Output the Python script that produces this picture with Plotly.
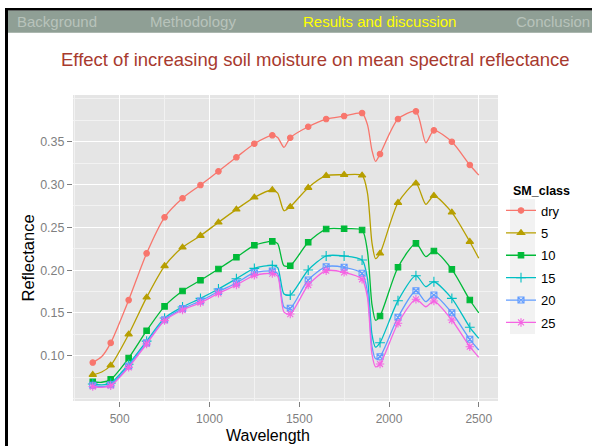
import plotly.graph_objects as go

# ---------------- data ----------------
WAVELENGTH = [350, 400, 450, 550, 650, 750, 850, 950, 1050, 1150, 1250, 1350, 1380, 1415, 1450,
              1550, 1650, 1750, 1850, 1880, 1905, 1925, 1950, 2050, 2150, 2205, 2250, 2350, 2450, 2500]
MARKER_WL = [350, 450, 550, 650, 750, 850, 950, 1050, 1150, 1250, 1350, 1450,
             1550, 1650, 1750, 1850, 1950, 2050, 2150, 2250, 2350, 2450]

SM_CLASSES = ["dry", "5", "10", "15", "20", "25"]

dry = [0.092, 0.099, 0.115, 0.165, 0.2196, 0.2617, 0.284, 0.2994, 0.3154, 0.3318, 0.3477, 0.3575,
       0.355, 0.3435, 0.3547, 0.3675, 0.3765, 0.380, 0.3835, 0.370, 0.340, 0.327, 0.3356, 0.3765,
       0.3855, 0.3488, 0.3633, 0.350, 0.3228, 0.311]
sm5 = [0.0778, 0.081, 0.0888, 0.125, 0.1682, 0.2048, 0.2266, 0.2402, 0.2558, 0.271, 0.285, 0.2936,
       0.290, 0.2694, 0.274, 0.2963, 0.3103, 0.3114, 0.3107, 0.290, 0.232, 0.2135, 0.2196, 0.2787,
       0.3014, 0.2769, 0.2869, 0.2675, 0.2332, 0.2138]
sm10 = [0.0696, 0.069, 0.0724, 0.0973, 0.1292, 0.1577, 0.1756, 0.1881, 0.2013, 0.215, 0.229, 0.2336,
        0.231, 0.205, 0.2051, 0.2325, 0.248, 0.2484, 0.2468, 0.222, 0.160, 0.1415, 0.1464, 0.2033,
        0.2313, 0.2157, 0.2223, 0.2009, 0.1651, 0.150]
sm15 = [0.067, 0.066, 0.068, 0.090, 0.117, 0.144, 0.157, 0.167, 0.178, 0.190, 0.202, 0.2056,
        0.203, 0.172, 0.1709, 0.2001, 0.2165, 0.2165, 0.2118, 0.190, 0.125, 0.110, 0.1152, 0.1643,
        0.1935, 0.1806, 0.1864, 0.167, 0.1332, 0.1203]
sm20 = [0.0655, 0.064, 0.066, 0.088, 0.115, 0.142, 0.155, 0.164, 0.175, 0.185, 0.197, 0.199,
        0.196, 0.157, 0.1554, 0.1884, 0.204, 0.2033, 0.1963, 0.175, 0.111, 0.0965, 0.0988, 0.1449,
        0.1759, 0.1631, 0.1709, 0.1502, 0.1192, 0.1067]
sm25 = [0.064, 0.063, 0.065, 0.0864, 0.1137, 0.141, 0.1534, 0.162, 0.1729, 0.1826, 0.194, 0.196,
        0.193, 0.151, 0.1487, 0.1826, 0.1993, 0.1974, 0.1893, 0.168, 0.102, 0.087, 0.0903, 0.1379,
        0.1659, 0.1572, 0.1639, 0.1417, 0.1105, 0.0981]
SERIES = [dry, sm5, sm10, sm15, sm20, sm25]

NAV_ITEMS = ["Background", "Methodology", "Results and discussion", "Conclusion"]
TITLE = "Effect of increasing soil moisture on mean spectral reflectance"
X_TICKS = [500, 1000, 1500, 2000, 2500]
Y_TICKS = [0.10, 0.15, 0.20, 0.25, 0.30, 0.35]

# ---------------- style ----------------
COLORS = ["#F8766D", "#B79F00", "#00BA38", "#00BFC4", "#619CFF", "#F564E3"]
SYMBOLS = ["circle", "triangle-up", "square", "cross-thin-open", "square-x-open", "asterisk-open"]
SIZES = [5.5, 6.5, 5.5, 7, 6, 7]
FONT = "Liberation Sans, Arial, sans-serif"

W, H = 592, 446
L, R, T, B = 73, 94, 95, 45
PW, PH = W - L - R, H - T - B


def px(x):
    return (x - L) / PW


def py(y):
    return (H - B - y) / PH


fig = go.Figure()

for name, vals, col, sym, sz in zip(SM_CLASSES, SERIES, COLORS, SYMBOLS, SIZES):
    lookup = dict(zip(WAVELENGTH, vals))
    fig.add_trace(go.Scatter(
        x=WAVELENGTH, y=vals, mode="lines", legendgroup=name, showlegend=False,
        line=dict(color=col, width=1.3, shape="spline", smoothing=0.7), hoverinfo="skip"))
    fig.add_trace(go.Scatter(
        x=MARKER_WL, y=[lookup[w] for w in MARKER_WL], mode="markers", legendgroup=name,
        showlegend=False,
        marker=dict(symbol=sym, size=sz, color=col, line=dict(color=col, width=1.1))))
    fig.add_trace(go.Scatter(
        x=[None], y=[None], mode="lines+markers", name=name, legendgroup=name, showlegend=True,
        line=dict(color=col, width=1.3),
        marker=dict(symbol=sym, size=sz, color=col, line=dict(color=col, width=1.1))))

shapes = [
    dict(type="rect", xref="paper", yref="paper", x0=px(7), x1=px(592), y0=py(32.7), y1=py(10.5),
         fillcolor="#8f9f95", line=dict(width=0), layer="below"),
    dict(type="rect", xref="paper", yref="paper", x0=px(5), x1=px(592), y0=py(10.5), y1=py(8),
         fillcolor="#000000", line=dict(width=0), layer="below"),
    dict(type="rect", xref="paper", yref="paper", x0=px(5), x1=px(8), y0=py(446), y1=py(8),
         fillcolor="#000000", line=dict(width=0), layer="below"),
    dict(type="rect", xref="paper", yref="paper", x0=px(510), x1=px(535), y0=py(334), y1=py(199),
         fillcolor="#f2f2f2", line=dict(width=0), layer="below"),
]

nav_x = [56.5, 192.5, 379.5, 552.5]
nav_col = ["#b8c3bb", "#b8c3bb", "#ffff00", "#b8c3bb"]
annotations = []
for t, xc, c in zip(NAV_ITEMS, nav_x, nav_col):
    annotations.append(dict(text=t, x=px(xc), y=py(21.7), xref="paper", yref="paper",
                            xanchor="center", yanchor="middle", showarrow=False,
                            font=dict(family=FONT, size=15, color=c)))
annotations += [
    dict(text=TITLE, x=px(315), y=py(60), xref="paper", yref="paper", xanchor="center",
         yanchor="middle", showarrow=False, font=dict(family=FONT, size=18.5, color="#a83a2e")),
    dict(text="Wavelength", x=px(268), y=py(435), xref="paper", yref="paper", xanchor="center",
         yanchor="middle", showarrow=False, borderpad=0,
         font=dict(family=FONT, size=16, color="#000000")),
    dict(text="Reflectance", x=px(27.5), y=py(258), xref="paper", yref="paper", xanchor="center",
         yanchor="middle", showarrow=False, textangle=-90,
         font=dict(family=FONT, size=16.5, color="#000000")),
    dict(text="<b>SM_class</b>", x=px(511), y=py(190.7), xref="paper", yref="paper",
         xanchor="left", yanchor="middle", showarrow=False,
         font=dict(family=FONT, size=12.5, color="#000000")),
]

fig.update_layout(
    width=W, height=H, margin=dict(l=L, r=R, t=T, b=B, pad=0),
    paper_bgcolor="#ffffff", plot_bgcolor="#e5e5e5",
    font=dict(family=FONT),
    shapes=shapes, annotations=annotations,
    showlegend=True,
    legend=dict(x=px(501), y=py(195.5), xanchor="left", yanchor="top", bgcolor="rgba(0,0,0,0)",
                font=dict(family=FONT, size=13, color="#000000"), tracegroupgap=2.5,
                traceorder="grouped"),
    xaxis=dict(range=[240, 2607], tickvals=X_TICKS, showgrid=True, gridcolor="#ffffff",
               gridwidth=1.3, zeroline=False, showline=False, ticks="outside", ticklen=5,
               tickcolor="#7f7f7f", tickwidth=1, ticklabelstandoff=2,
               tickfont=dict(family=FONT, size=12, color="#7f7f7f"),
               minor=dict(dtick=250, tick0=0, showgrid=True, gridcolor="#f2f2f2", gridwidth=0.6)),
    yaxis=dict(range=[0.0471, 0.4046], tickvals=Y_TICKS, tickformat=".2f", showgrid=True,
               gridcolor="#ffffff", gridwidth=1.3, zeroline=False, showline=False,
               ticks="outside", ticklen=5, tickcolor="#7f7f7f", tickwidth=1,
               tickfont=dict(family=FONT, size=12.5, color="#7f7f7f"),
               minor=dict(dtick=0.025, tick0=0, showgrid=True, gridcolor="#f2f2f2",
                          gridwidth=0.6)),
)

fig.write_html("out.html")
